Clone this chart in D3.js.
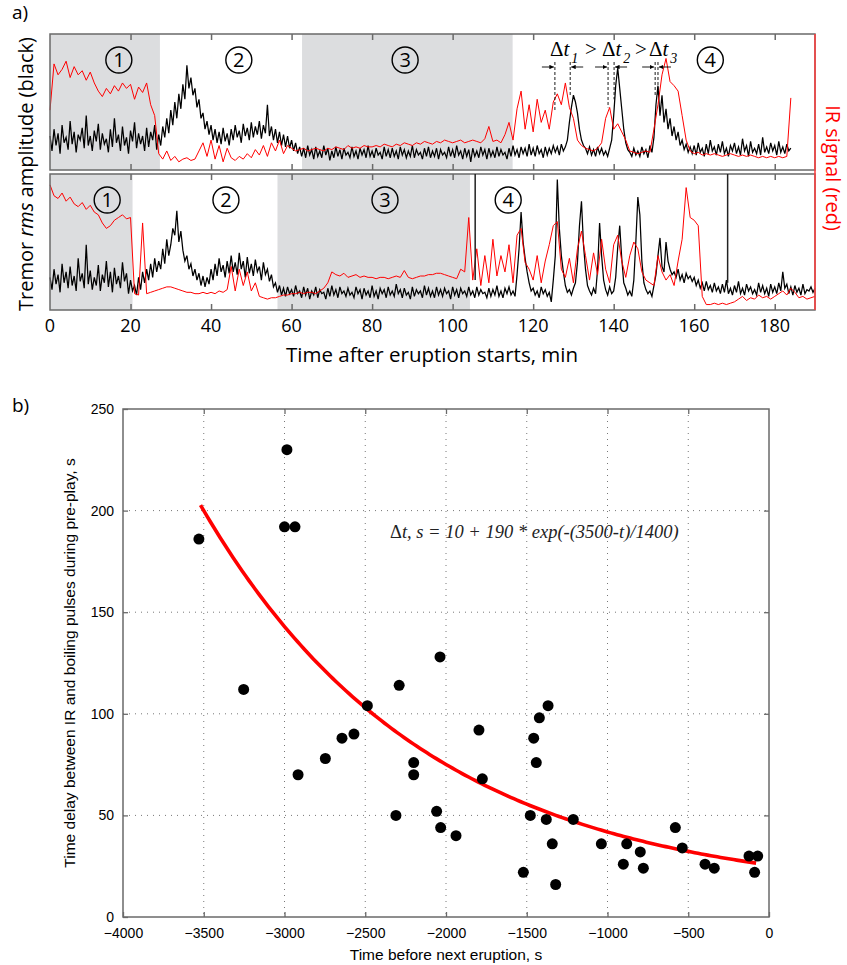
<!DOCTYPE html>
<html>
<head>
<meta charset="utf-8">
<script src="https://cdn.jsdelivr.net/npm/d3@7"></script>
<style>
  body { margin: 0; background: #fff; }
  svg { display: block; font-family: "Liberation Sans", Arial, sans-serif; }
</style>
</head>
<body>
<svg id="chart" width="847" height="965"></svg>
<script>
// ---- panel a) data: traces sampled every 0.5 min (black) / 1 min (red), 0-100 relative units
const blackStep = 0.5, redStep = 1;

const blackTop = [
  25,14,30,18,27,12,33,20,24,15, 36,19,28,13,26,22,31,16,40,18,
  25,14,29,21,34,15,27,19,23,13, 30,17,38,20,26,14,32,18,24,12,
  29,21,35,16,27,19,25,14,31,17, 28,22,33,15,26,18,32,24,38,27,
  44,33,50,38,56,45,63,52,77,60, 68,55,60,46,52,38,42,30,36,26,
  33,22,30,20,28,19,31,21,27,18, 30,22,33,24,29,20,34,25,31,22,
  35,24,32,26,36,23,33,27,48,25, 32,22,30,20,28,18,26,17,25,16,
  22,14,20,12,17,10,16,9,18,11,  15,8,17,10,14,9,18,11,16,7,
  14,9,17,10,15,8,16,11,13,9,    17,10,14,8,16,11,15,9,18,10,
  14,9,16,11,13,8,17,10,15,9,    16,10,14,8,17,11,15,9,14,10,
  18,9,15,11,13,8,16,10,17,9,    14,10,16,8,15,11,13,9,17,10,
  15,9,18,11,14,8,16,10,15,6,    16,10,14,9,17,11,15,8,16,10,
  14,9,17,10,15,11,13,8,16,10,   18,11,15,9,17,12,16,10,19,11,
  16,10,18,12,15,9,17,11,16,12,  18,13,17,11,19,14,17,22,35,46,
  55,50,42,30,22,18,16,12,17,11, 15,10,17,12,16,11,14,10,16,22,
  40,62,75,60,45,30,20,15,13,10, 16,11,14,10,17,12,15,9,18,13,
  24,48,62,40,55,35,45,30,38,25, 32,22,28,18,22,15,19,13,17,12,
  18,11,20,13,16,10,19,12,22,14, 17,11,19,13,21,12,16,10,18,14,
  20,12,17,11,23,14,18,10,21,13, 16,12,19,11,24,13,17,12,20,14,
  18,11,21,13,17,12,19,14,16
];

const redTop = [
  44,78,70,74,80,68,76,70,73,66,  72,64,58,54,60,56,62,58,64,60,
  63,52,61,57,64,48,40,12,8,14,   7,10,6,8,9,7,8,14,20,10,
  22,8,18,6,16,9,7,10,8,12,       9,15,11,18,10,20,14,22,12,18,
  16,14,15,16,14,15,16,15,14,16,  15,17,16,15,18,16,17,16,18,17,
  17,18,17,19,18,17,19,18,20,19,  18,20,19,21,20,19,21,20,22,21,
  20,21,22,20,21,22,21,20,23,32,  21,22,20,26,35,22,45,58,30,48,
  28,52,35,44,30,50,56,48,64,46,  38,22,18,16,15,14,16,20,38,46,
  30,34,28,22,14,13,12,13,14,13,  30,48,70,82,65,62,58,40,22,14,
  12,13,11,12,11,12,11,10,11,12,  11,10,11,10,11,10,9,10,9,10,
  9,10,9,10,53
];

const blackBottom = [
  24,15,30,19,26,13,34,20,28,16, 32,18,25,14,38,21,27,16,48,19,
  29,15,24,18,33,14,26,20,36,17, 28,13,31,19,25,16,35,21,27,12,
  22,14,18,11,24,15,28,20,30,22, 34,24,38,28,36,30,45,34,52,40,
  48,60,55,73,50,58,44,36,40,30, 34,25,30,22,27,18,25,17,24,19,
  30,22,34,25,38,28,33,24,36,27, 40,28,35,26,42,30,36,24,39,27,
  34,25,37,28,32,22,35,26,30,21, 26,17,20,13,18,11,16,10,17,12,
  15,10,18,12,14,9,17,11,16,8,   14,11,17,9,15,12,13,8,16,10,
  18,11,15,9,17,12,14,10,16,11,  13,9,17,12,15,8,16,11,14,9,
  18,10,14,8,16,12,15,9,17,11,   14,10,19,12,15,9,16,11,13,8,
  17,10,15,12,14,9,18,11,16,10,  14,9,17,11,15,10,16,12,14,8,
  17,11,15,9,16,12,14,10,17,11,  14,9,17,11,15,12,13,9,16,10,
  15,11,18,10,14,9,16,12,17,11,  14,10,26,45,72,50,38,28,20,14,
  16,11,14,9,17,12,15,10,13,6,   22,40,96,60,40,28,18,13,15,11,
  16,20,35,62,80,48,30,18,14,11, 16,12,30,64,40,22,15,11,17,12,
  14,24,46,62,38,20,16,11,14,10, 22,50,83,70,36,20,15,12,14,10,
  18,26,40,53,32,28,50,36,30,26, 28,24,30,22,26,20,27,23,25,21,
  24,18,22,16,20,14,21,15,18,13, 20,14,17,12,19,13,22,12,16,11,
  18,13,21,12,16,11,19,14,17,12, 15,11,20,13,18,12,16,10,19,13,
  17,12,20,14,28,16,19,12,17,11, 18,13,16,11,19,12,15,14,17,13,16
];

const redBottom = [
  92,84,82,86,80,83,78,76,79,74,  77,72,70,64,60,62,66,68,70,67,
  68,12,11,64,12,13,14,15,16,17,  17,16,15,14,13,13,12,12,13,12,
  13,12,14,13,15,32,14,30,18,28,  14,20,10,9,8,9,9,10,11,11,
  12,12,13,12,13,13,12,14,16,20,  28,26,25,27,24,25,26,24,25,24,
  24,23,24,24,23,24,25,24,29,24,  23,24,25,25,26,26,27,27,26,25,
  24,23,30,28,68,22,45,18,40,20,  52,25,40,28,48,20,55,60,35,30,
  22,40,20,36,48,62,65,30,24,38,  20,45,58,40,22,42,26,52,30,20,
  48,55,36,24,40,50,45,28,22,20,  18,40,28,22,26,18,36,52,90,68,
  66,62,10,4,4,5,4,5,4,5,         6,8,10,7,9,8,11,9,10,8,
  10,12,14,11,16,13,9,10,8,9,     10
];

// eruption phases (min) and circled phase labels
const phasesTop = [[0, 27.3], [62.6, 114.9]];
const phasesBottom = [[0, 20.5], [56.5, 104.3]];
const phaseLabels = ["1", "2", "3", "4"];
const phaseLabelTop = [17.1, 46.9, 88.2, 164];
const phaseLabelBottom = [14.2, 43.7, 83.2, 113.8];
const markerLines = [105.6, 168.3];
const markerLineEnds = [22, 20];
const timeTicks = [0, 20, 40, 60, 80, 100, 120, 140, 160, 180];

// delay brackets in upper trace (min) and lower end of dashed lines (relative units)
const delayPairs = [[125.4, 129.2], [138.6, 140.1], [150.3, 151.0]];
const delayDashEnd = [[44, 54], [46, 52], [54, 54]];

// ---- panel b) data
const delayX = [-3530,-2985,-3000,-2935,-2037,-3253,-2290,-2487,-2570,-2644,
  -2747,-2916,-2200,-2200,-2310,-2058,-2033,-1938,-1796,-1775,
  -1521,-1478,-1457,-1441,-1422,-1368,-1379,-1342,-1321,-1212,
  -1038,-881,-902,-797,-778,-580,-537,-396,-339,-124,-70,-89];
const delayY = [186,230,192,192,128,112,114,104,90,88,
  78,70,76,70,50,52,44,40,92,68,
  22,50,88,76,98,104,48,36,16,48,
  36,36,26,32,24,44,34,26,24,30,30,22];
const xTicksB = [-4000,-3500,-3000,-2500,-2000,-1500,-1000,-500,0];
const yTicksB = [0,50,100,150,200,250];
// fit shown in the figure: dt = 10 + 190*exp(-(3500-t)/1400), t = time before eruption
const fitA = 10, fitB = 190, fitT0 = 3500, fitTau = 1400;
const fitRange = [-3520, -80];

const svg = d3.select("#chart");
const frameColor = "#6a6a6a";

// ================= panel a =================
const x = d3.scaleLinear().domain([0, 190]).range([50, 815]);
const panels = [
  { y: d3.scaleLinear().domain([0, 100]).range([170, 34]), black: blackTop, red: redTop,
    phases: phasesTop, labels: phaseLabelTop, top: 34, bottom: 170 },
  { y: d3.scaleLinear().domain([0, 100]).range([310, 174]), black: blackBottom, red: redBottom,
    phases: phasesBottom, labels: phaseLabelBottom, top: 174, bottom: 310 }
];

panels.forEach((p, k) => {
  const g = svg.append("g");
  g.selectAll("rect.phase").data(p.phases).join("rect")
    .attr("x", d => x(d[0])).attr("width", d => x(d[1]) - x(d[0]))
    .attr("y", p.top).attr("height", p.bottom - p.top)
    .attr("fill", "#dcdddf");

  const lineB = d3.line().x((d, i) => x(i * blackStep)).y(d => p.y(d));
  const lineR = d3.line().x((d, i) => x(i * redStep)).y(d => p.y(d));
  g.append("path").attr("d", lineB(p.black)).attr("fill", "none")
    .attr("stroke", "#000").attr("stroke-width", 1.25);
  g.append("path").attr("d", lineR(p.red)).attr("fill", "none")
    .attr("stroke", "#ff0000").attr("stroke-width", 1);

  // circled phase numbers
  const lab = g.selectAll("g.lab").data(p.labels).join("g")
    .attr("transform", d => `translate(${x(d)},${p.top + 26})`);
  lab.append("circle").attr("r", 13).attr("fill", "none").attr("stroke", "#000").attr("stroke-width", 1.4);
  lab.append("text").text((d, i) => phaseLabels[i]).attr("text-anchor", "middle")
    .attr("dy", "0.36em").attr("font-size", 20).attr("font-family", "Open Sans, sans-serif");

  // frame and inward ticks
  g.append("rect").attr("x", x(0)).attr("y", p.top).attr("width", x(190) - x(0))
    .attr("height", p.bottom - p.top).attr("fill", "none")
    .attr("stroke", frameColor).attr("stroke-width", 1.5);
  const inner = timeTicks.filter(t => t > 0);
  g.append("g").attr("transform", `translate(0,${p.bottom})`)
    .call(d3.axisBottom(x).tickValues(inner).tickSizeInner(-6).tickSizeOuter(0).tickFormat(""))
    .call(a => a.select(".domain").remove())
    .call(a => a.selectAll("line").attr("stroke", frameColor).attr("stroke-width", 1.5));
  g.append("g").attr("transform", `translate(0,${p.top})`)
    .call(d3.axisTop(x).tickValues(inner).tickSizeInner(-6).tickSizeOuter(0).tickFormat(""))
    .call(a => a.select(".domain").remove())
    .call(a => a.selectAll("line").attr("stroke", frameColor).attr("stroke-width", 1.5));

  if (k === 1) {
    g.selectAll("line.mark").data(markerLines).join("line")
      .attr("x1", d => x(d)).attr("x2", d => x(d))
      .attr("y1", p.top).attr("y2", (d, i) => p.y(markerLineEnds[i]))
      .attr("stroke", "#222").attr("stroke-width", 1.5);
    g.selectAll("text.tick").data(timeTicks).join("text")
      .attr("x", d => x(d)).attr("y", p.bottom + 22).attr("text-anchor", "middle")
      .attr("font-size", 18).attr("font-family", "Open Sans, sans-serif").text(d => d);
  }
});

// red right spine (IR axis)
svg.append("line").attr("x1", x(190)).attr("x2", x(190)).attr("y1", 34).attr("y2", 310)
  .attr("stroke", "#ff3b3b").attr("stroke-width", 1.5);

// delay brackets in upper panel
const defs = svg.append("defs");
defs.append("marker").attr("id", "arr").attr("viewBox", "0 0 10 10").attr("refX", 10).attr("refY", 5)
  .attr("markerWidth", 5).attr("markerHeight", 5).attr("orient", "auto")
  .append("path").attr("d", "M0,0L10,5L0,10z").attr("fill", "#000");
const yT = panels[0].y;
delayPairs.forEach((pr, i) => {
  pr.forEach((t, j) => {
    svg.append("line").attr("x1", x(t)).attr("x2", x(t)).attr("y1", 62).attr("y2", yT(delayDashEnd[i][j]))
      .attr("stroke", "#000").attr("stroke-width", 0.9).attr("stroke-dasharray", "3,2");
  });
  svg.append("line").attr("x1", x(pr[0]) - 13).attr("x2", x(pr[0]) - 1).attr("y1", 67).attr("y2", 67)
    .attr("stroke", "#000").attr("stroke-width", 0.9).attr("marker-end", "url(#arr)");
  svg.append("line").attr("x1", x(pr[1]) + 13).attr("x2", x(pr[1]) + 1).attr("y1", 67).attr("y2", 67)
    .attr("stroke", "#000").attr("stroke-width", 0.9).attr("marker-end", "url(#arr)");
});
const dtLabel = [{ x: 550, s: "1" }, { x: 602, s: "2" }, { x: 649, s: "3" }];
dtLabel.forEach(d => {
  const t = svg.append("text").attr("x", d.x).attr("y", 56)
    .attr("font-family", "Liberation Serif, serif").attr("font-size", 21);
  t.append("tspan").text("Δ");
  t.append("tspan").attr("font-style", "italic").text("t");
  t.append("tspan").attr("font-style", "italic").attr("font-size", 14).attr("dx", 2).attr("dy", 7).text(d.s);
});
[585, 635].forEach(px => svg.append("text").attr("x", px).attr("y", 56)
  .attr("font-family", "Liberation Serif, serif").attr("font-size", 21).text(">"));

// axis titles panel a
svg.append("text").attr("x", 432).attr("y", 362).attr("text-anchor", "middle")
  .attr("font-size", 20.5).attr("font-family", "Open Sans, sans-serif").text("Time after eruption starts, min");
const yl = svg.append("text").attr("transform", "translate(33,174) rotate(-90)").attr("text-anchor", "middle")
  .attr("font-size", 20).attr("font-family", "Open Sans, sans-serif");
yl.append("tspan").text("Tremor ");
yl.append("tspan").attr("font-style", "italic").text("rms");
yl.append("tspan").text(" amplitude (black)");
svg.append("text").attr("transform", "translate(826,168) rotate(90)").attr("text-anchor", "middle")
  .attr("font-size", 20).attr("fill", "#ff0000").attr("font-family", "Open Sans, sans-serif").text("IR signal (red)");
svg.append("text").attr("x", 12).attr("y", 19).attr("font-size", 19).attr("font-family", "Open Sans, sans-serif").text("a)");

// ================= panel b =================
const xb = d3.scaleLinear().domain([-4000, 0]).range([123, 769]);
const yb = d3.scaleLinear().domain([0, 250]).range([917, 409]);
const gb = svg.append("g");

gb.selectAll("line.vg").data(xTicksB.slice(1, -1)).join("line")
  .attr("x1", d => xb(d)).attr("x2", d => xb(d)).attr("y1", yb(250)).attr("y2", yb(0))
  .attr("stroke", "#777").attr("stroke-width", 1).attr("stroke-dasharray", "1,5");
gb.selectAll("line.hg").data(yTicksB.slice(1, -1)).join("line")
  .attr("x1", xb(-4000)).attr("x2", xb(0)).attr("y1", d => yb(d)).attr("y2", d => yb(d))
  .attr("stroke", "#777").attr("stroke-width", 1).attr("stroke-dasharray", "1,5");

const fitT = d3.range(fitRange[0], fitRange[1] + 1, 20);
const fitLine = d3.line().x(t => xb(t)).y(t => yb(fitA + fitB * Math.exp(-(fitT0 + t) / fitTau)));
gb.append("path").attr("d", fitLine(fitT)).attr("fill", "none")
  .attr("stroke", "#ff0000").attr("stroke-width", 3.6);

gb.selectAll("circle.pt").data(delayX).join("circle")
  .attr("cx", d => xb(d)).attr("cy", (d, i) => yb(delayY[i])).attr("r", 5.5).attr("fill", "#000");

gb.append("rect").attr("x", xb(-4000)).attr("y", yb(250)).attr("width", xb(0) - xb(-4000))
  .attr("height", yb(0) - yb(250)).attr("fill", "none").attr("stroke", frameColor).attr("stroke-width", 1.5);

const fmt = d3.format("d");
const styleAxis = a => {
  a.select(".domain").remove();
  a.selectAll("line").attr("stroke", frameColor).attr("stroke-width", 1.3);
  a.selectAll("text").attr("font-size", 14).attr("fill", "#000")
    .attr("font-family", "Liberation Sans, Arial, sans-serif");
};
gb.append("g").attr("transform", `translate(0,${yb(0)})`)
  .call(d3.axisBottom(xb).tickValues(xTicksB).tickSizeInner(-5).tickSizeOuter(0).tickPadding(11).tickFormat(fmt))
  .call(styleAxis);
gb.append("g").attr("transform", `translate(0,${yb(250)})`)
  .call(d3.axisTop(xb).tickValues(xTicksB.slice(1, -1)).tickSizeInner(-5).tickSizeOuter(0).tickFormat(""))
  .call(styleAxis);
gb.append("g").attr("transform", `translate(${xb(-4000)},0)`)
  .call(d3.axisLeft(yb).tickValues(yTicksB).tickSizeInner(-5).tickSizeOuter(0).tickPadding(9).tickFormat(fmt))
  .call(styleAxis);
gb.append("g").attr("transform", `translate(${xb(0)},0)`)
  .call(d3.axisRight(yb).tickValues(yTicksB.slice(1, -1)).tickSizeInner(-5).tickSizeOuter(0).tickFormat(""))
  .call(styleAxis);

// equation label
const eq = gb.append("text").attr("x", 390).attr("y", 538)
  .attr("font-family", "Liberation Serif, serif").attr("font-size", 18.5).attr("fill", "#222");
eq.append("tspan").text("Δ");
eq.append("tspan").attr("font-style", "italic").text("t, s = 10 + 190 * exp(-(3500-t)/1400)");

gb.append("text").attr("x", 446).attr("y", 960).attr("text-anchor", "middle")
  .attr("font-size", 15.5).text("Time before next eruption, s");
gb.append("text").attr("transform", "translate(75,663) rotate(-90)").attr("text-anchor", "middle")
  .attr("font-size", 15.5).text("Time delay between IR and boiling pulses during pre-play, s");
gb.append("text").attr("x", 12).attr("y", 412).attr("font-size", 19)
  .attr("font-family", "Open Sans, sans-serif").text("b)");
</script>
</body>
</html>
